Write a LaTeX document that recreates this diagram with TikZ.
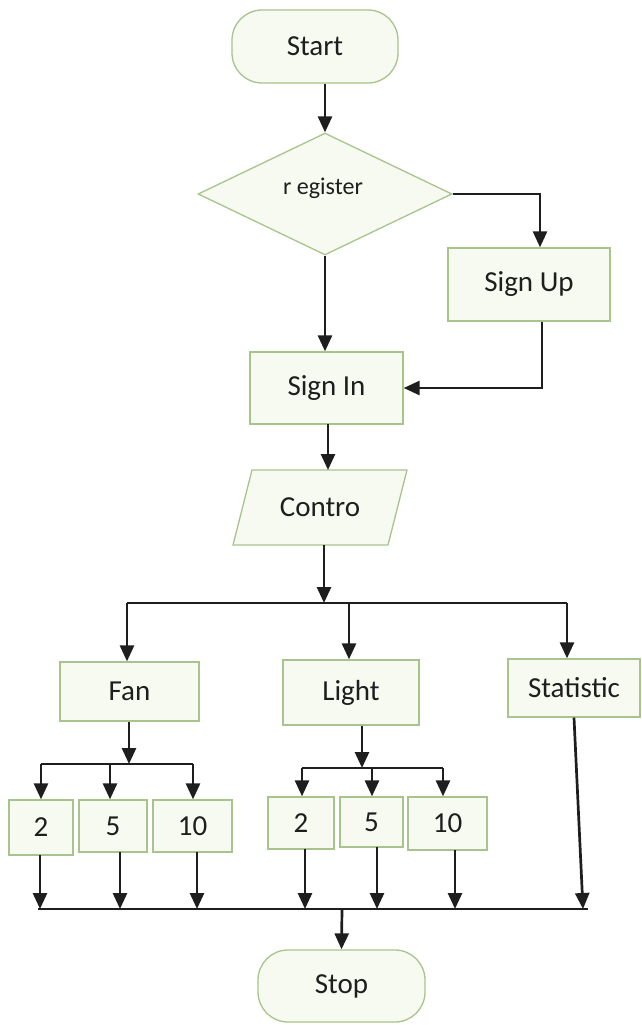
\documentclass[tikz,border=0pt]{standalone}
\usepackage{fontspec}
\setmainfont{Carlito}
\usetikzlibrary{shapes.geometric,arrows.meta,calc}
\definecolor{boxfill}{HTML}{F6FAF0}
\definecolor{boxline}{HTML}{A8C48C}
\definecolor{ink}{HTML}{1E1E1E}
\begin{document}
\begin{tikzpicture}[x=1pt,y=-1pt,
  base/.style={draw=boxline,line width=1.3pt,fill=boxfill,inner sep=0pt,text=ink,font=\fontsize{29}{32}\selectfont},
  procbox/.style={base,rectangle},
  termbox/.style={base,rectangle,rounded corners=30pt},
  decbox/.style={base,diamond},
  conn/.style={draw=ink,line width=2.7pt},
  arr/.style={conn,-{Triangle[width=14pt,length=16pt]}}]
\useasboundingbox (0,0) rectangle (641,1025);

% nodes
\node[termbox,minimum width=166pt,minimum height=73pt] (start) at (315,46.5) {Start};
\node[decbox,minimum width=254pt,minimum height=122pt] (dia) at (325,194) {};
\node[text=ink,font=\fontsize{24}{27}\selectfont] (regtxt) at (323,188) {r egister};
\node[procbox,minimum width=162pt,minimum height=73pt] (signup) at (529,284.5) {Sign Up};
\node[procbox,minimum width=153pt,minimum height=72pt] (signin) at (326.5,388) {Sign In};
\coordinate (contro) at (320,507.5);
\filldraw[draw=boxline,line width=1.3pt,fill=boxfill]
  (252,470) -- (407,470) -- (388,545) -- (233,545) -- cycle;
\node[inner sep=0pt,minimum width=155pt,minimum height=75pt,text=ink,font=\fontsize{29}{32}\selectfont] (controtxt) at (contro) {Contro};

\node[procbox,minimum width=139pt,minimum height=59pt] (fan) at (129.5,691.5) {Fan};
\node[procbox,minimum width=136pt,minimum height=65pt] (light) at (351,692.5) {Light};
\node[procbox,minimum width=132pt,minimum height=58pt] (stat) at (574,688) {Statistic};

\node[procbox,minimum width=64pt,minimum height=55pt] (f2) at (41,827.5) {2};
\node[procbox,minimum width=68pt,minimum height=52pt] (f5) at (113,826) {5};
\node[procbox,minimum width=79pt,minimum height=52pt] (f10) at (192.5,826) {10};
\node[procbox,minimum width=66pt,minimum height=52pt] (l2) at (301,823) {2};
\node[procbox,minimum width=63pt,minimum height=50pt] (l5) at (371.5,822) {5};
\node[procbox,minimum width=79pt,minimum height=53pt] (l10) at (447.5,823.5) {10};

\node[termbox,minimum width=167pt,minimum height=72pt] (stop) at (341.5,986) {Stop};

% bus coordinates
\coordinate (busA) at (324,603);
\coordinate (busL) at (127,603);
\coordinate (busM) at (349,603);
\coordinate (busR) at (567,603);
\coordinate (fanbus) at (129,764);
\coordinate (fbL) at (41,764);
\coordinate (fbM) at (110,764);
\coordinate (fbR) at (193,764);
\coordinate (lightbus) at (362,768);
\coordinate (lbL) at (302,768);
\coordinate (lbM) at (372,768);
\coordinate (lbR) at (443,768);
\coordinate (endL) at (38,909);
\coordinate (endR) at (588,909);
\coordinate (endM) at (342,909);
% drops to bottom bus
\coordinate (d1t) at (40,855);  \coordinate (d1b) at (40,909);
\coordinate (d2t) at (120,852); \coordinate (d2b) at (120,909);
\coordinate (d3t) at (197,852); \coordinate (d3b) at (197,909);
\coordinate (d4t) at (305,849); \coordinate (d4b) at (305,909);
\coordinate (d5t) at (377,847); \coordinate (d5b) at (377,909);
\coordinate (d6t) at (455,850); \coordinate (d6b) at (455,909);
\coordinate (d7b) at (583,909);

% connectors
\draw[arr] (dia.north |- start.south) -- (dia.north);
\draw[arr] (dia.east) -| ($(signup.north)+(11,0)$);
\draw[arr] (dia.south) -- (dia.south |- signin.north);
\draw[arr] ($(signup.south)+(13,0)$) |- (signin.east);
\draw[arr] (328,424) -- (328,470);
\draw[arr] (324,545) -- (busA);
\draw[conn] (busL) -- (busR);
\draw[arr] (busL) -- (busL |- fan.north);
\draw[arr] (busM) -- (busM |- light.north);
\draw[arr] (busR) -- (busR |- stat.north);

\draw[arr] (fanbus |- fan.south) -- (fanbus);
\draw[conn] (fbL) -- (fbR);
\draw[arr] (fbL) -- (fbL |- f2.north);
\draw[arr] (fbM) -- (fbM |- f5.north);
\draw[arr] (fbR) -- (fbR |- f10.north);

\draw[arr] (lightbus |- light.south) -- (lightbus);
\draw[conn] (lbL) -- (lbR);
\draw[arr] (lbL) -- (lbL |- l2.north);
\draw[arr] (lbM) -- (lbM |- l5.north);
\draw[arr] (lbR) -- (lbR |- l10.north);

\draw[conn] (endL) -- (endR);
\draw[arr] (d1t) -- (d1b);
\draw[arr] (d2t) -- (d2b);
\draw[arr] (d3t) -- (d3b);
\draw[arr] (d4t) -- (d4b);
\draw[arr] (d5t) -- (d5b);
\draw[arr] (d6t) -- (d6b);
\draw[arr] (stat.south) -- (d7b);
\draw[arr] (endM) -- (stop.north);
\end{tikzpicture}
\end{document}
